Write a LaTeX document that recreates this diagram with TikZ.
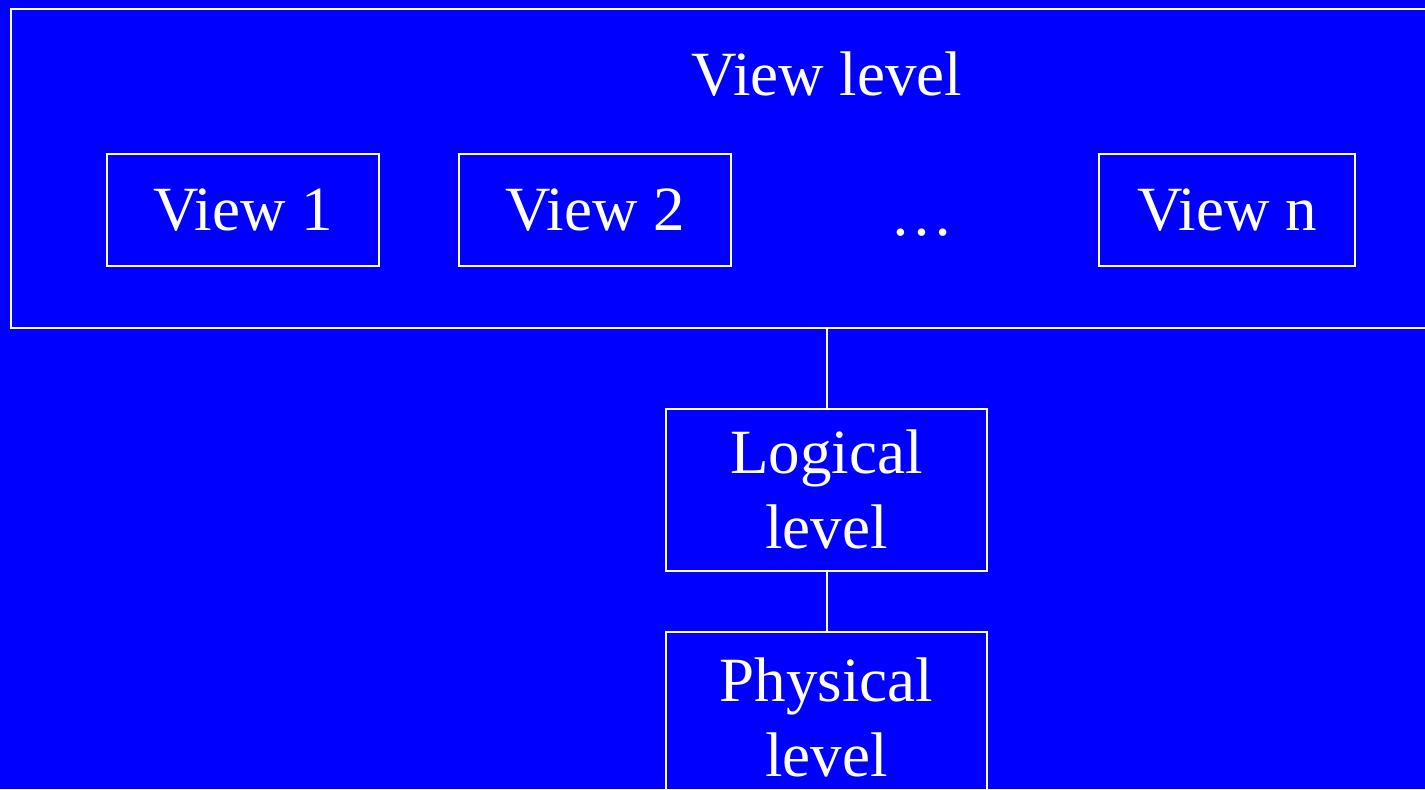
\documentclass[tikz,border=0pt]{standalone}
\usepackage{fontspec}
\setmainfont{Liberation Serif}
\usetikzlibrary{positioning}
\definecolor{fondo}{RGB}{0,0,255}
\tikzstyle{viewbox} = [draw=white, line width=1pt, rectangle, minimum width=136pt, minimum height=56pt, inner sep=0pt, text=white]
\tikzstyle{levelbox} = [draw=white, line width=1pt, rectangle, minimum width=160.5pt, minimum height=80pt, inner sep=0pt, text=white, align=center]
\tikzstyle{enlace} = [draw=white, line width=1pt]

\begin{document}
\begin{tikzpicture}[x=0.5pt, y=-0.5pt, font=\fontsize{31.5}{37.5}\selectfont]
	\useasboundingbox (0,0) rectangle (1425,789);
	\clip (0,0) rectangle (1425,789);
	\fill[fondo] (0,0) rectangle (1425,789);
	% nivel de vistas
	\node [draw=white, line width=1pt, rectangle, minimum width=720pt, minimum height=159.5pt, inner sep=0pt] (viewlevel) at (731,168.5) {};
	\node [text=white] (title) at (827,74) {View level};
	\node [viewbox] (view1) at (243,210) {View 1};
	\node [viewbox] (view2) at (595,210) {View 2};
	\node [text=white] (dots) at (922,233) {\dots};
	\node [viewbox, minimum width=128pt] (viewn) at (1227,210) {View n};
	% niveles inferiores
	\node [levelbox, minimum height=81pt] (logical) at (826.5,489.5) {Logical \\ level};
	\node [levelbox, minimum height=85pt] (physical) at (826.5,717) {Physical\\ level};
	\draw [enlace] (viewlevel.south -| logical.north) -- (logical.north);
	\draw [enlace] (logical.south) -- (physical.north);
\end{tikzpicture}
\end{document}
